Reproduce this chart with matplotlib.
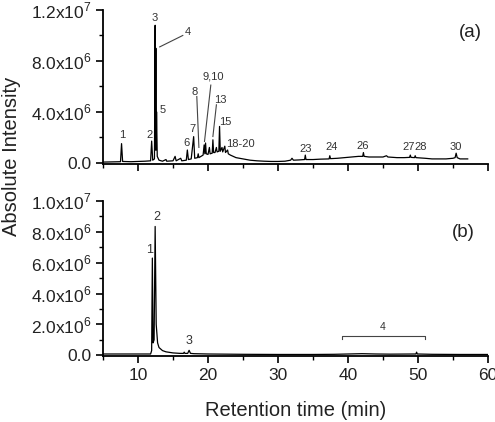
import matplotlib
matplotlib.use("Agg")
import matplotlib.pyplot as plt
from matplotlib.ticker import MultipleLocator, FixedLocator

plt.rcParams['font.family'] = ['Liberation Sans', 'DejaVu Sans']
plt.rcParams['mathtext.fontset'] = 'custom'
plt.rcParams['mathtext.rm'] = 'Liberation Sans'

# ---- data (intensity in units of 1e6) ----
time_a = [5.0, 7.5, 7.65, 7.8, 9.0, 10.0, 11.0, 11.8, 11.95, 12.1, 12.35, 12.45, 12.5, 12.55, 12.6,
          12.65, 12.75, 13.0, 13.5, 14.0, 14.1, 15.0, 15.3, 15.45, 16.1, 16.25, 16.9, 17.05, 17.2,
          17.6, 17.95, 18.1, 18.5, 18.6, 18.7, 19.0, 19.3, 19.45, 19.55, 19.65, 19.75, 20.0, 20.2,
          20.3, 20.6, 20.7, 20.8, 21.0, 21.2, 21.3, 21.55, 21.65, 21.75, 22.0, 22.1, 22.4, 22.5,
          22.8, 22.9, 23.2, 24.0, 25.0, 26.0, 27.0, 28.0, 29.0, 30.0, 31.0, 31.8, 32.0, 32.2, 33.0,
          33.8, 33.9, 34.0, 35.0, 36.0, 37.3, 37.4, 37.5, 38.5, 39.5, 40.5, 41.5, 42.1, 42.2, 42.3,
          43.0, 44.0, 45.0, 45.5, 45.7, 47.0, 48.0, 48.8, 48.9, 49.0, 49.5, 49.6, 49.7, 51.0, 52.0,
          53.0, 54.0, 55.0, 55.3, 55.45, 55.6, 56.0, 57.1]
inten_a = [0.05, 0.08, 1.5, 0.1, 0.08, 0.1, 0.12, 0.15, 1.7, 0.2, 0.3, 10.8, 1.0, 9.0, 1.0,
           4.0, 0.5, 0.2, 0.12, 0.25, 0.12, 0.15, 0.5, 0.15, 0.35, 0.15, 0.2, 1.0, 0.25,
           0.3, 2.05, 0.35, 0.4, 0.7, 0.4, 0.5, 0.6, 1.4, 0.7, 1.55, 0.7, 0.65, 1.2,
           0.7, 0.75, 1.8, 0.8, 0.8, 1.2, 0.85, 0.9, 2.85, 0.9, 1.2, 0.85, 1.3, 0.8,
           1.0, 0.7, 0.6, 0.4, 0.3, 0.2, 0.15, 0.12, 0.1, 0.1, 0.12, 0.2, 0.35, 0.2, 0.22,
           0.25, 0.6, 0.25, 0.25, 0.28, 0.3, 0.55, 0.32, 0.35, 0.4, 0.45, 0.5, 0.5, 0.8, 0.5,
           0.45, 0.45, 0.45, 0.55, 0.45, 0.4, 0.4, 0.42, 0.6, 0.42, 0.4, 0.55, 0.4, 0.35, 0.3,
           0.3, 0.3, 0.35, 0.4, 0.75, 0.4, 0.3, 0.3]

time_b = [5.0, 11.8, 11.95, 12.05, 12.15, 12.3, 12.45, 12.6, 12.8, 13.0, 13.5, 14.0, 15.0, 16.0,
          16.5, 16.6, 16.7, 17.1, 17.3, 17.5, 18.0, 20.0, 25.0, 30.0, 35.0, 38.0, 40.0, 42.0,
          44.0, 46.0, 49.7, 49.8, 49.9, 52.0, 56.0, 60.0]
inten_b = [0.08, 0.08, 0.3, 6.3, 0.8, 1.0, 8.35, 2.0, 0.8, 0.5, 0.3, 0.22, 0.15, 0.12,
           0.12, 0.2, 0.12, 0.12, 0.32, 0.12, 0.1, 0.08, 0.06, 0.05, 0.05, 0.06, 0.08, 0.1,
           0.08, 0.07, 0.08, 0.2, 0.08, 0.06, 0.05, 0.05]

# peak labels (text, time, intensity 1e6)
labels_a = [("1", 7.7, 2.2), ("2", 11.7, 2.2), ("3", 12.4, 11.35), ("4", 17.1, 10.3),
            ("5", 13.5, 4.15), ("6", 16.9, 1.55), ("7", 17.8, 2.65), ("8", 18.1, 5.55),
            ("9,10", 20.8, 6.75), ("13", 21.7, 4.95), ("15", 22.4, 3.2), ("18-20", 24.6, 1.5),
            ("23", 33.9, 1.1), ("24", 37.6, 1.2), ("26", 42.1, 1.35), ("27", 48.6, 1.25),
            ("28", 50.4, 1.25), ("30", 55.4, 1.25)]
pointers_a = [((13.1, 9.1), (16.4, 10.0)), ((18.7, 1.2), (18.4, 5.2)),
              ((19.5, 1.67), (20.4, 6.1)), ((20.7, 2.06), (21.2, 4.55))]
labels_b = [("1", 11.7, 6.8), ("2", 12.7, 8.95), ("3", 17.3, 0.95), ("4", 45.0, 1.8)]
bracket_b = ([39.2, 39.2, 51.0, 51.0], [1.02, 1.25, 1.25, 1.02])

yticks_a = [0, 4e6, 8e6, 1.2e7]
yticklabels_a = ["0.0", r"4.0x10$^{6}$", r"8.0x10$^{6}$", r"1.2x10$^{7}$"]
yticks_b = [0, 2e6, 4e6, 6e6, 8e6, 1e7]
yticklabels_b = ["0.0", r"2.0x10$^{6}$", r"4.0x10$^{6}$", r"6.0x10$^{6}$", r"8.0x10$^{6}$", r"1.0x10$^{7}$"]
xticks = [10, 20, 30, 40, 50, 60]

S = 1e6
fig = plt.figure(figsize=(4.95, 4.22), dpi=100)
W, H = 495, 422
def rect(l, r, t, b):
    return [l / W, 1 - b / H, (r - l) / W, (b - t) / H]

ax1 = fig.add_axes(rect(103, 488, 10, 164))
ax2 = fig.add_axes(rect(103, 488, 201, 356))

txtc = '#222222'
for ax in (ax1, ax2):
    for s in ('top', 'right'):
        ax.spines[s].set_visible(False)
    for s in ('left', 'bottom'):
        ax.spines[s].set_linewidth(1.3)
    ax.set_xlim(5, 60)
    ax.xaxis.set_major_locator(FixedLocator(xticks))
    ax.xaxis.set_minor_locator(MultipleLocator(5))
    ax.tick_params(which='major', direction='out', length=5, width=1.2, labelsize=12.5, colors='black', labelcolor=txtc)
    ax.tick_params(which='minor', direction='out', length=3, width=1.0)

ax1.plot(time_a, [v * S for v in inten_a], color='black', lw=0.9)
ax1.set_ylim(-0.1e6, 1.2e7)
ax1.set_yticks(yticks_a)
ax1.set_yticklabels(yticklabels_a)
ax1.yaxis.set_minor_locator(MultipleLocator(2e6))
ax1.tick_params(axis='x', labelbottom=False)
for t, x, y in labels_a:
    ax1.text(x, y * S, t, fontsize=8, ha='center', va='center', color='#333333')
for (p0, p1) in pointers_a:
    ax1.plot([p0[0], p1[0]], [p0[1] * S, p1[1] * S], color='#444444', lw=0.8)
ax1.text(0.953, 0.856, "(a)", transform=ax1.transAxes, fontsize=13.5, ha='center', va='center', color=txtc)

ax2.plot(time_b, [v * S for v in inten_b], color='black', lw=0.9)
ax2.set_ylim(-0.05e6, 1.0e7)
ax2.set_yticks(yticks_b)
ax2.set_yticklabels(yticklabels_b)
ax2.yaxis.set_minor_locator(MultipleLocator(1e6))
for t, x, y in labels_b:
    ax2.text(x, y * S, t, fontsize=9 if t != "4" else 7.5, ha='center', va='center', color='#333333')
ax2.plot(bracket_b[0], [v * S for v in bracket_b[1]], color='#444444', lw=0.8)
ax2.text(0.935, 0.8, "(b)", transform=ax2.transAxes, fontsize=13.5, ha='center', va='center', color=txtc)

fig.text(12 / W, 1 - 156 / H, "Absolute Intensity", rotation=90, fontsize=14.5, ha='center', va='center', color=txtc)
fig.text(296 / W, 1 - 410 / H, "Retention time (min)", fontsize=14.5, ha='center', va='center', color=txtc)

fig.savefig("out.png", dpi=100)
